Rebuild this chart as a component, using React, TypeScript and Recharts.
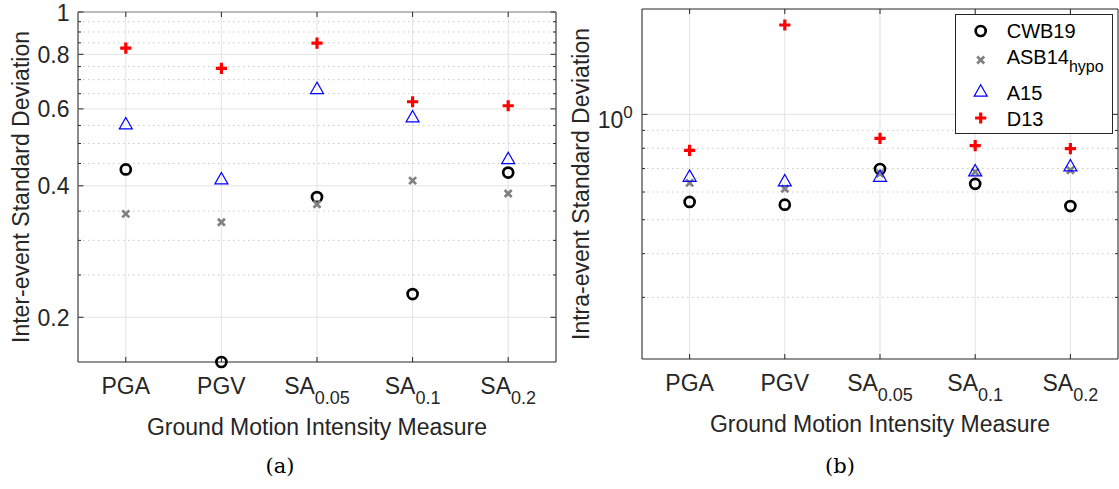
import React from "react";
import {
  ScatterChart,
  Scatter,
  XAxis,
  YAxis,
  CartesianGrid,
  ReferenceLine,
  ReferenceArea,
  Legend,
} from "recharts";

const categories = ["PGA", "PGV", "SA", "SA", "SA"];
const categorySubs = ["", "", "0.05", "0.1", "0.2"];

// (a) inter-event standard deviation
const interCWB19 = [0.436, 0.158, 0.377, 0.226, 0.429];
const interASB14 = [0.345, 0.33, 0.363, 0.411, 0.384];
const interA15 = [0.556, 0.416, 0.67, 0.577, 0.463];
const interD13 = [0.827, 0.743, 0.849, 0.623, 0.61];

// (b) intra-event standard deviation
const intraCWB19 = [0.562, 0.552, 0.698, 0.633, 0.547];
const intraASB14 = [0.637, 0.613, 0.677, 0.685, 0.692];
const intraA15 = [0.668, 0.648, 0.668, 0.692, 0.715];
const intraD13 = [0.789, 1.8, 0.854, 0.814, 0.798];

const interMajor = [0.2, 0.4, 0.6, 0.8, 1];
const interMinor = [0.25, 0.3, 0.35, 0.45, 0.5, 0.55, 0.65, 0.7, 0.75, 0.85, 0.9, 0.95];
const intraMajor = [1];
const intraMinor = [0.3, 0.4, 0.5, 0.6, 0.7, 0.8, 0.9];

const FONT = '"Liberation Sans", Arial, Helvetica, sans-serif';
const INK = "#262626";
const GRID = "#e3e3e3";
const MINOR = "#c8c8c8";

const toPoints = (vals: number[]) => vals.map((y, i) => ({ x: i, y }));

// marker shapes (matlab style)
const Circle = ({ cx, cy }: any) => (
  <circle cx={cx} cy={cy} r={5} fill="none" stroke="#000" strokeWidth={2.7} />
);
const Cross = ({ cx, cy }: any) => (
  <path
    d={`M${cx - 3.5},${cy - 3.5}L${cx + 3.5},${cy + 3.5}M${cx - 3.5},${cy + 3.5}L${cx + 3.5},${cy - 3.5}`}
    stroke="#808080"
    strokeWidth={2.7}
    fill="none"
  />
);
const Triangle = ({ cx, cy }: any) => (
  <path
    d={`M${cx},${cy - 5.8}L${cx + 6.5},${cy + 5.6}L${cx - 6.5},${cy + 5.6}Z`}
    fill="none"
    stroke="#0000ff"
    strokeWidth={1.2}
  />
);
const Plus = ({ cx, cy }: any) => (
  <path
    d={`M${cx - 5.6},${cy}H${cx + 5.6}M${cx},${cy - 5.6}V${cy + 5.6}`}
    stroke="#ff0000"
    strokeWidth={3.2}
    fill="none"
  />
);

const legendItems = [
  { name: "CWB19", sub: "", Shape: Circle },
  { name: "ASB14", sub: "hypo", Shape: Cross },
  { name: "A15", sub: "", Shape: Triangle },
  { name: "D13", sub: "", Shape: Plus },
];

function LegendBox() {
  const markerY = [17, 46, 76.5, 104];
  const textY = [23.5, 49.5, 85.5, 111.5];
  return (
    <svg width={158} height={120} style={{ display: "block" }}>
      <rect x={0.5} y={0.5} width={157} height={119} fill="#fff" stroke={INK} />
      {legendItems.map((it, i) => (
        <g key={it.name}>
          <it.Shape cx={25.7} cy={markerY[i]} />
          <text x={51.7} y={textY[i]} fontFamily={FONT} fontSize={20} fill="#000">
            {it.name}
            {it.sub && (
              <tspan fontSize={16} dy={8.5}>
                {it.sub}
              </tspan>
            )}
          </text>
        </g>
      ))}
    </svg>
  );
}

interface PanelProps {
  width: number;
  marginTop: number;
  marginRight: number;
  yAxisWidth: number;
  xAxisHeight: number;
  domain: [number, number];
  major: number[];
  minor: number[];
  power: boolean;
  yLabel: string;
  caption: string;
  captionX: number;
  series: number[][];
  legend?: boolean;
}

function Panel(p: PanelProps) {
  const height = 489;
  const plotTop = p.marginTop;
  const plotRight = p.width - p.marginRight;

  const xTick = (props: any) => {
    const { x, y, payload } = props;
    const i = payload.value;
    return (
      <g>
        <line x1={x} x2={x} y1={y} y2={y - 5} stroke={INK} />
        <line x1={x} x2={x} y1={plotTop} y2={plotTop + 5} stroke={INK} />
        <text x={x} y={y + 31.5} textAnchor="middle" fontFamily={FONT} fontSize={23} fill={INK}>
          {categories[i]}
          {categorySubs[i] && (
            <tspan fontSize={18} dy={10}>
              {categorySubs[i]}
            </tspan>
          )}
        </text>
      </g>
    );
  };

  const yTick = (props: any) => {
    const { x, y, payload } = props;
    const v = payload.value;
    const isMajor = p.major.includes(v);
    const len = isMajor ? 5.5 : 3;
    return (
      <g>
        <line x1={x} x2={x + len} y1={y} y2={y} stroke={INK} />
        <line x1={plotRight} x2={plotRight - len} y1={y} y2={y} stroke={INK} />
        {isMajor &&
          (p.power ? (
            <text x={x - 9.3} y={y + 13.6} textAnchor="end" fontFamily={FONT} fontSize={23} fill={INK}>
              10
              <tspan fontSize={17} dy={-10}>
                0
              </tspan>
            </text>
          ) : (
            <text x={x - 8.5} y={y + 8.5} textAnchor="end" fontFamily={FONT} fontSize={23} fill={INK}>
              {v}
            </text>
          ))}
      </g>
    );
  };

  const shapes = [Circle, Cross, Triangle, Plus];

  return (
    <ScatterChart
      width={p.width}
      height={height}
      margin={{ top: p.marginTop, right: p.marginRight, bottom: 0, left: 0 }}
    >
      <CartesianGrid vertical horizontal={false} stroke={GRID} />
      {p.minor.map((v) => (
        <ReferenceLine key={"m" + v} y={v} stroke={MINOR} strokeDasharray="1.5 3.5" />
      ))}
      {p.major.map((v) => (
        <ReferenceLine key={"M" + v} y={v} stroke={GRID} />
      ))}
      <XAxis
        type="number"
        dataKey="x"
        domain={[-0.5, 4.5]}
        ticks={[0, 1, 2, 3, 4]}
        interval={0}
        height={p.xAxisHeight}
        axisLine={false}
        tickLine={false}
        tickSize={0}
        tickMargin={0}
        tick={xTick}
        label={{
          content: ({ viewBox }: any) => (
            <g>
              <text
                x={viewBox.x + viewBox.width / 2}
                y={viewBox.y + 73}
                textAnchor="middle"
                fontFamily={FONT}
                fontSize={23}
                fill={INK}
              >
                Ground Motion Intensity Measure
              </text>
              <text
                x={p.captionX}
                y={473}
                textAnchor="middle"
                fontFamily={'"DejaVu Serif", "Liberation Serif", serif'}
                fontSize={21}
                fill="#000"
              >
                {p.caption}
              </text>
            </g>
          ),
        }}
      />
      <YAxis
        type="number"
        dataKey="y"
        scale="log"
        domain={p.domain}
        ticks={[...p.major, ...p.minor].sort((a, b) => a - b)}
        interval={0}
        width={p.yAxisWidth}
        axisLine={false}
        tickLine={false}
        tickSize={0}
        tickMargin={0}
        tick={yTick}
        label={{
          content: ({ viewBox }: any) => {
            const cx = 28.6;
            const cy = viewBox.y + viewBox.height / 2;
            return (
              <text
                x={cx}
                y={cy}
                transform={`rotate(-90, ${cx}, ${cy})`}
                textAnchor="middle"
                fontFamily={FONT}
                fontSize={23}
                fill={INK}
              >
                {p.yLabel}
              </text>
            );
          },
        }}
      />
      <ReferenceArea
        x1={-0.5}
        x2={4.5}
        y1={p.domain[0]}
        y2={p.domain[1]}
        fill="none"
        fillOpacity={0}
        stroke={INK}
        strokeWidth={1}
      />
      {p.series.map((vals, i) => {
        const S = shapes[i];
        return (
          <Scatter
            key={i}
            data={toPoints(vals)}
            isAnimationActive={false}
            shape={(sp: any) => <S cx={sp.cx} cy={sp.cy} />}
          />
        );
      })}
      {p.legend && (
        <Legend
          layout="vertical"
          align="center"
          verticalAlign="middle"
          wrapperStyle={{ left: 395, top: 14, width: 158, height: 120 }}
          content={() => <LegendBox />}
        />
      )}
    </ScatterChart>
  );
}

export default function App() {
  return (
    <div
      style={{
        position: "absolute",
        left: 0,
        top: 0,
        width: 1119,
        height: 489,
        background: "#fff",
        overflow: "hidden",
      }}
    >
      <div style={{ position: "absolute", left: 0, top: 0 }}>
        <Panel
          width={560}
          marginTop={12}
          marginRight={4}
          yAxisWidth={78}
          xAxisHeight={127}
          domain={[0.158, 1]}
          major={interMajor}
          minor={interMinor}
          power={false}
          yLabel="Inter-event Standard Deviation"
          caption="(a)"
          captionX={280}
          series={[interCWB19, interASB14, interA15, interD13]}
        />
      </div>
      <div style={{ position: "absolute", left: 560, top: 0 }}>
        <Panel
          width={559}
          marginTop={9}
          marginRight={1}
          yAxisWidth={82}
          xAxisHeight={130}
          domain={[0.2, 2]}
          major={intraMajor}
          minor={intraMinor}
          power={true}
          yLabel="Intra-event Standard Deviation"
          caption="(b)"
          captionX={280}
          series={[intraCWB19, intraASB14, intraA15, intraD13]}
          legend
        />
      </div>
    </div>
  );
}
